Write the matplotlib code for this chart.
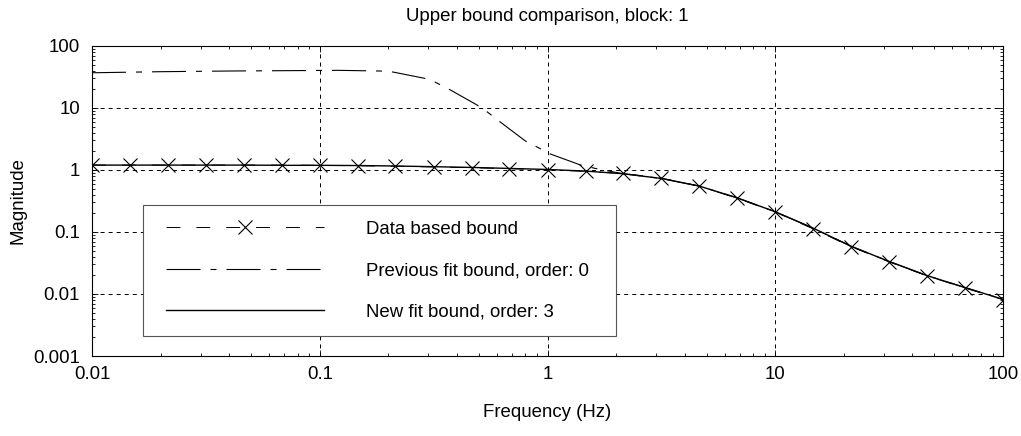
import matplotlib
matplotlib.use("Agg")
import matplotlib.pyplot as plt
from matplotlib.ticker import NullFormatter, LogLocator
from matplotlib.legend_handler import HandlerLine2D

plt.rcParams['font.family'] = ['Liberation Sans', 'DejaVu Sans']
plt.rcParams['lines.scale_dashes'] = False

# frequencies of the data based bound (Hz)
freq = [0.01, 0.0147, 0.0215, 0.0316, 0.0464, 0.0681, 0.1, 0.147, 0.215, 0.316,
        0.464, 0.681, 1.0, 1.47, 2.15, 3.16, 4.64, 6.81, 10.0, 14.7, 21.5, 31.6,
        46.4, 68.1, 100.0]
data_bound = [1.2, 1.2, 1.2, 1.2, 1.2, 1.2, 1.19, 1.17, 1.15, 1.12,
              1.09, 1.05, 1.01, 0.95, 0.88, 0.74, 0.55, 0.35, 0.21, 0.112,
              0.058, 0.033, 0.0196, 0.0125, 0.0081]
new_fit = [1.2, 1.2, 1.2, 1.2, 1.2, 1.19, 1.19, 1.18, 1.16, 1.13,
           1.1, 1.06, 1.02, 0.96, 0.87, 0.73, 0.55, 0.355, 0.212, 0.115,
           0.059, 0.0335, 0.0198, 0.0127, 0.0082]

# previous fit bound
prev_freq = [0.01, 0.02, 0.04, 0.07, 0.12, 0.185, 0.21, 0.29, 0.32, 0.375, 0.49,
             0.545, 0.62, 0.8, 0.9, 1.03, 1.4, 1.66, 2.15, 3.16, 4.64, 6.81, 10.0,
             14.7, 21.5, 31.6, 46.4, 68.1, 100.0]
prev_fit = [37.0, 38.5, 39.5, 40.0, 40.5, 39.5, 38.0, 30.0, 26.3, 19.5, 11.2,
            8.6, 5.95, 2.93, 2.35, 1.81, 1.2, 1.04, 0.87, 0.73, 0.55, 0.355, 0.212,
            0.115, 0.059, 0.0335, 0.0198, 0.0127, 0.0082]

yticks = [0.001, 0.01, 0.1, 1, 10, 100]
ytick_labels = ['0.001', '0.01', '0.1', '1', '10', '100']
xticks = [0.01, 0.1, 1, 10, 100]
xtick_labels = ['0.01', '0.1', '1', '10', '100']

fs = 13.4

fig = plt.figure(figsize=(10.21, 4.36), dpi=100)
ax = fig.add_axes([92 / 1021, 1 - 356 / 436, 911 / 1021, 310 / 436])

l1, = ax.plot(freq, data_bound, color='black', lw=0.7, dashes=(10, 11.5),
              marker='x', markersize=10, markeredgewidth=0.8,
              label='Data based bound')
l2, = ax.plot(prev_freq, prev_fit, color='black', lw=0.8,
              dashes=(24.5, 7.2, 4.3, 7.2), label='Previous fit bound, order: 0')
l3, = ax.plot(freq, new_fit, color='black', lw=1.0, label='New fit bound, order: 3')

ax.set_xscale('log')
ax.set_yscale('log')
ax.set_xlim(0.01, 100)
ax.set_ylim(0.001, 100)
ax.set_xticks(xticks, labels=xtick_labels)
ax.set_yticks(yticks, labels=ytick_labels)
ax.xaxis.set_minor_locator(LogLocator(base=10, subs=range(2, 10), numticks=20))
ax.yaxis.set_minor_locator(LogLocator(base=10, subs=range(2, 10), numticks=20))
ax.xaxis.set_minor_formatter(NullFormatter())
ax.yaxis.set_minor_formatter(NullFormatter())
ax.tick_params(which='both', direction='in', top=True, right=True, width=0.6,
               labelsize=fs)
ax.tick_params(which='major', length=4)
ax.tick_params(which='minor', length=2)
ax.tick_params(axis='y', pad=8.6)
ax.tick_params(axis='x', pad=7)
for s in ax.spines.values():
    s.set_linewidth(0.8)

ax.grid(True, which='major', color='black', lw=0.7, dashes=(2.9, 2.9))

ax.set_title('Upper bound comparison, block: 1', fontsize=fs, pad=18.3)
ax.set_xlabel('Frequency (Hz)', fontsize=fs)
ax.set_ylabel('Magnitude', fontsize=fs)
ax.xaxis.set_label_coords(0.5, -0.155)
ax.yaxis.set_label_coords(-0.0715, 0.5)

leg = ax.legend(handles=[l1, l2, l3], loc='upper left',
                bbox_to_anchor=(143 / 1021, 1 - 332 / 436, 473 / 1021, 127 / 436),
                bbox_transform=fig.transFigure, borderaxespad=0, mode='expand',
                fontsize=fs, numpoints=1, handlelength=8.85, handletextpad=2.26,
                borderpad=0.85, labelspacing=1.31, fancybox=False,
                framealpha=1, edgecolor='#555555',
                handler_map={matplotlib.lines.Line2D: HandlerLine2D(xpad=0.4)})
leg.get_frame().set_linewidth(0.8)

fig.savefig('out.png', dpi=100)
